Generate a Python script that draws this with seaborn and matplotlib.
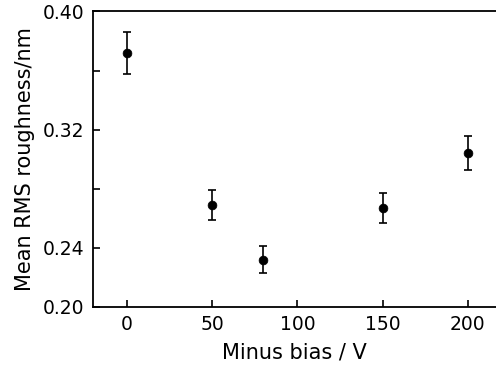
import seaborn as sns
import numpy as np
import matplotlib.pyplot as plt
import pandas as pd

# data
bias = [0, 50, 80, 150, 200]
roughness = [0.372, 0.269, 0.232, 0.267, 0.304]
err = [0.014, 0.010, 0.009, 0.010, 0.0115]

df = pd.DataFrame({'bias': bias, 'roughness': roughness, 'err': err})

#%%
sns.set_style('ticks')
plt.rcParams['font.family'] = ['DejaVu Sans']
plt.rcParams['text.color'] = 'black'
plt.rcParams['axes.labelcolor'] = 'black'
plt.rcParams['xtick.color'] = 'black'
plt.rcParams['ytick.color'] = 'black'

fig = plt.figure(figsize=(4.96, 3.67), dpi=100)
ax = fig.add_axes([0.1875, 0.1635, 0.8125, 0.8052])

ax.errorbar(df['bias'], df['roughness'], yerr=df['err'], fmt='none',
            ecolor='black', elinewidth=1.2, capsize=3, capthick=1.2)
sns.scatterplot(data=df, x='bias', y='roughness', color='black', s=40,
                edgecolor='black', ax=ax, zorder=3)

ax.set_xlim(-20, 216.5)
ax.set_ylim(0.20, 0.40)
ax.set_xticks([0, 50, 100, 150, 200])
ax.set_yticks([0.20, 0.24, 0.28, 0.32, 0.36, 0.40])
ax.set_yticklabels(['0.20', '0.24', '', '0.32', '', '0.40'])
ax.tick_params(direction='in', length=5, width=1.2, labelsize=13.5, pad=6)
ax.spines['right'].set_visible(False)
for s in ['left', 'bottom', 'top']:
    ax.spines[s].set_linewidth(1.3)
    ax.spines[s].set_color('black')

ax.set_xlabel('Minus bias / V', fontsize=15, labelpad=6)
ax.set_ylabel('Mean RMS roughness/nm', fontsize=15, labelpad=6)

plt.savefig('out.png', dpi=100)
